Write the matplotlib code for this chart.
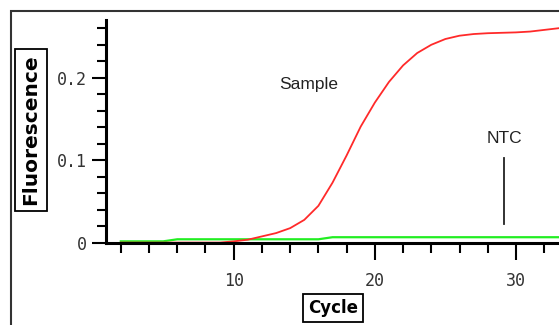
import numpy as np
import matplotlib.pyplot as plt
from matplotlib.patches import Rectangle
from matplotlib.ticker import MultipleLocator, FixedLocator

# cycles
cycles = np.arange(2, 34)
sample = [0.0005, 0.0005, 0.0005, 0.0005, 0.0005, 0.0005, 0.0005, 0.0005, 0.002,
          0.004, 0.008, 0.012, 0.018, 0.028, 0.045, 0.073, 0.106, 0.141, 0.170,
          0.195, 0.215, 0.230, 0.240, 0.247, 0.251, 0.253, 0.254, 0.2545, 0.255,
          0.256, 0.258, 0.260]
ntc = [0.002, 0.002, 0.002, 0.002, 0.0045, 0.0045, 0.0045, 0.0045, 0.0045, 0.0045,
       0.0045, 0.0045, 0.0045, 0.0045, 0.0045, 0.007, 0.007, 0.007, 0.007, 0.007,
       0.007, 0.007, 0.007, 0.007, 0.007, 0.007, 0.007, 0.007, 0.007, 0.007,
       0.007, 0.007]

W, H = 559, 325
fig = plt.figure(figsize=(W / 100, H / 100), dpi=100)
fig.patch.set_facecolor('white')

# outer frame (cropped at right/bottom)
fig.patches.append(Rectangle((10.5 / W, -0.2), 1.2, (H - 11) / H + 0.2,
                             transform=fig.transFigure, fill=False,
                             edgecolor='#333333', linewidth=1.5))

ax = fig.add_axes([106 / W, 82 / H, (W - 106) / W, (305 - 82) / H])
ax.plot(cycles, ntc, color='#22ee22', linewidth=1.6)
ax.plot(cycles, sample, color='#ff2a2a', linewidth=1.3)

ax.set_xlim(0.95, 33.05)
ax.set_ylim(0, 0.27)

for side in ['top', 'right']:
    ax.spines[side].set_visible(False)
for side in ['left', 'bottom']:
    ax.spines[side].set_linewidth(2.2)
    ax.spines[side].set_color('black')

ax.xaxis.set_major_locator(FixedLocator([10, 20, 30]))
ax.xaxis.set_minor_locator(MultipleLocator(2))
ax.yaxis.set_major_locator(FixedLocator([0, 0.1, 0.2]))
ax.yaxis.set_minor_locator(MultipleLocator(0.02))
ax.set_yticklabels(['0', '0.1', '0.2'])
ax.set_xticklabels(['10', '20', '30'])

ax.tick_params(axis='x', which='major', direction='out', length=12, width=1.5,
               pad=9, labelsize=12, labelcolor='#333333')
ax.tick_params(axis='x', which='minor', direction='out', length=7, width=1.5)
ax.tick_params(axis='y', which='major', direction='out', length=10, width=1.5,
               pad=4, labelsize=12, labelcolor='#333333')
ax.tick_params(axis='y', which='minor', direction='out', length=6.5, width=1.5)
for lab in ax.get_xticklabels() + ax.get_yticklabels():
    lab.set_family('DejaVu Sans Mono')

ax.text(15.3, 0.192, 'Sample', fontsize=12.5, family='Liberation Sans',
        color='#222222', ha='center', va='center')
ax.text(29.2, 0.127, 'NTC', fontsize=12.5, family='Liberation Sans',
        color='#222222', ha='center', va='center')
ax.plot([29.15, 29.15], [0.103, 0.023], color='#222222', linewidth=1.3)

box = dict(boxstyle='square,pad=0.3', facecolor='white', edgecolor='black',
           linewidth=1.3)
fig.text(31 / W, 1 - 130 / H, 'Fluorescence', rotation=90, fontsize=14.5,
         fontweight='bold', ha='center', va='center', bbox=box)
fig.text(333 / W, 1 - 308 / H, 'Cycle', fontsize=12, fontweight='bold',
         ha='center', va='center', bbox=box)

fig.savefig('out.png', dpi=100, facecolor='white')
